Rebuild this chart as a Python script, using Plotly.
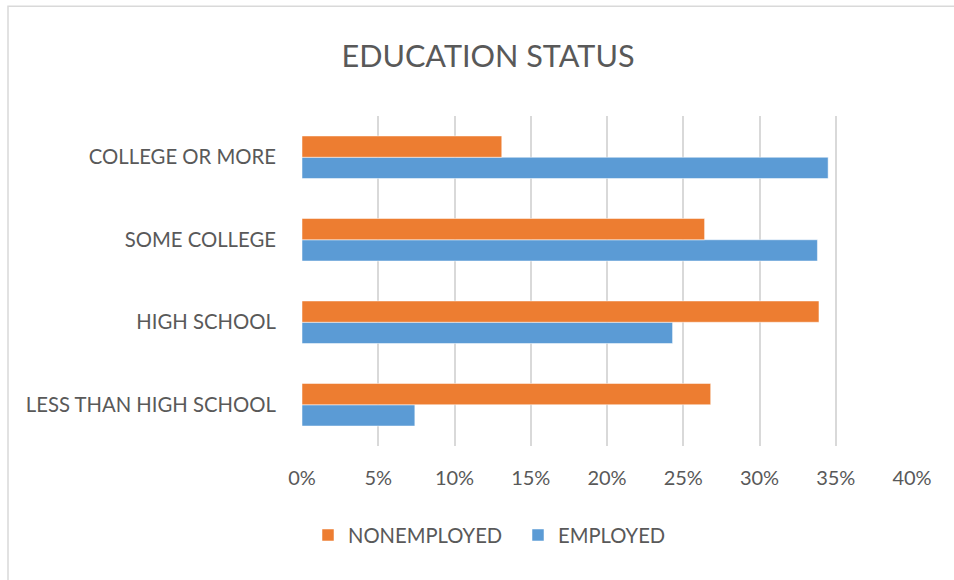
import plotly.graph_objects as go

categories = ["LESS THAN HIGH SCHOOL", "HIGH SCHOOL", "SOME COLLEGE", "COLLEGE OR MORE"]
employed = [7.4, 24.3, 33.8, 34.5]
nonemployed = [26.8, 33.9, 26.4, 13.1]
x_ticks = [0, 5, 10, 15, 20, 25, 30, 35, 40]
x_tick_labels = [f"{v}%" for v in x_ticks]

TXT = "#595959"
FONT = "Lato"

fig = go.Figure()
fig.add_trace(go.Bar(
    y=categories, x=employed, name="EMPLOYED", orientation="h",
    marker=dict(color="#5B9BD5", line=dict(color="rgba(255,255,255,0.5)", width=1)),
))
fig.add_trace(go.Bar(
    y=categories, x=nonemployed, name="NONEMPLOYED", orientation="h",
    marker=dict(color="#ED7D31", line=dict(color="rgba(255,255,255,0.5)", width=1)),
))

# page body margin is removed by post_script, so figure fills the window
W, H = 954, 580
# plot area in page coordinates
PL, PR, PT, PB = 302, 912, 116, 446.5
L, R, T, B = PL, W - PR, PT, H - PB
pw, ph = PR - PL, PB - PT

def px(xp):  # page x -> paper x
    return (xp - PL) / pw

def py(yp):  # page y -> paper y
    return (PB - yp) / ph

fig.update_layout(
    width=W, height=H,
    margin=dict(l=L, r=R, t=T, b=B, pad=0),
    paper_bgcolor="white", plot_bgcolor="white",
    barmode="group", bargap=0.484, bargroupgap=0,
    font=dict(family=FONT, color=TXT, size=20),
    title=dict(text="EDUCATION STATUS", xref="container", x=488 / W,
               xanchor="center", yref="container", y=1 - 56 / H,
               yanchor="middle",
               font=dict(family=FONT, size=30.6, color=TXT)),
    xaxis=dict(range=[0, 40], tickvals=x_ticks, ticktext=x_tick_labels,
               showgrid=True, gridcolor="#d9d9d9", gridwidth=1.5,
               zeroline=False, showline=False,
               ticks="outside", ticklen=14, tickcolor="rgba(0,0,0,0)",
               tickfont=dict(family=FONT, size=20, color=TXT), fixedrange=True),
    yaxis=dict(categoryorder="array", categoryarray=categories,
               showgrid=False, zeroline=False, showline=False,
               ticks="outside", ticklen=21, tickcolor="rgba(0,0,0,0)",
               tickfont=dict(family=FONT, size=20.3, color=TXT), fixedrange=True),
    legend=dict(orientation="h", traceorder="reversed",
                x=px(308), xanchor="left", y=py(536), yanchor="middle",
                entrywidth=165, entrywidthmode="pixels",
                font=dict(family=FONT, size=20.2, color=TXT),
                bgcolor="rgba(0,0,0,0)"),
    showlegend=True,
)

# chart frame border (extends beyond right and bottom edges)
fig.add_shape(type="rect", xref="paper", yref="paper",
              x0=px(8), x1=px(990), y0=py(620), y1=py(6),
              line=dict(color="#d9d9d9", width=1.5), fillcolor="rgba(0,0,0,0)",
              layer="below")

fig.write_html("out.html", config={"displayModeBar": False},
               post_script="document.body.style.margin='0';document.body.style.overflow='hidden';")
